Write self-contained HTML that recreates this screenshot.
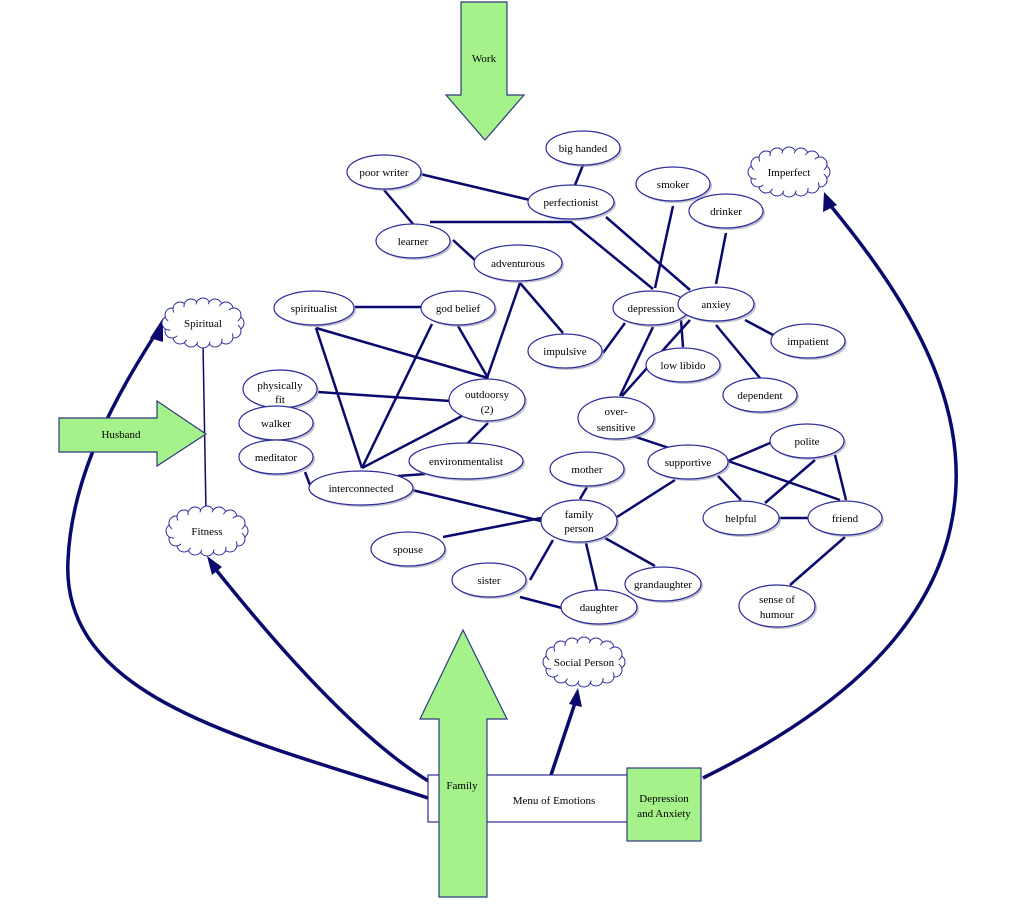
<!DOCTYPE html>
<html><head><meta charset="utf-8"><style>
html,body{margin:0;padding:0;background:#fff;}
svg{display:block;}
text{font-family:"Liberation Serif",serif;font-size:11px;fill:#000;text-anchor:middle;}
</style></head><body>
<svg width="1024" height="906" viewBox="0 0 1024 906" xmlns="http://www.w3.org/2000/svg">
<defs>
<g id="cloud">
<g fill="#fff" stroke="#2b2b9a" stroke-width="1">
<circle cx="34" cy="0" r="7"/><circle cx="31" cy="8" r="7"/><circle cx="23" cy="14" r="7"/><circle cx="12" cy="17" r="7"/><circle cx="0" cy="18" r="7"/><circle cx="-12" cy="17" r="7"/><circle cx="-23" cy="14" r="7"/><circle cx="-31" cy="8" r="7"/><circle cx="-34" cy="0" r="7"/><circle cx="-31" cy="-8" r="7"/><circle cx="-23" cy="-14" r="7"/><circle cx="-12" cy="-17" r="7"/><circle cx="0" cy="-18" r="7"/><circle cx="12" cy="-17" r="7"/><circle cx="23" cy="-14" r="7"/><circle cx="31" cy="-8" r="7"/>
</g>
<ellipse cx="0" cy="0" rx="35" ry="19" fill="#fff"/>
</g>
</defs>

<g fill="none" stroke="#0a0a6e" stroke-width="3.5">
<path d="M428,798 C250,740 60,700 68,560 C72,470 120,390 158,330"/>
<path d="M430,782 C360,740 280,650 213,566"/>
<path d="M551,775 L576,700"/>
<path d="M703,778 C820,720 930,640 952,520 C975,400 900,290 830,205"/>
</g>
<g fill="#0a0a6e">
<polygon points="163,318 150,338 163,342"/>
<polygon points="207,556 212,575 222,567"/>
<polygon points="578,688 569,704 582,707"/>
<polygon points="824,192 823,212 837,205"/>
</g>

<g stroke="#0a0a6e" stroke-width="2.5" fill="none">
<line x1="420" y1="174" x2="530" y2="200"/>
<line x1="384" y1="190" x2="413" y2="224"/>
<line x1="583" y1="165" x2="575" y2="185"/>
<polyline points="430,222 571,222 653,289"/>
<line x1="606" y1="217" x2="690" y2="290"/>
<line x1="673" y1="206" x2="655" y2="288"/>
<line x1="726" y1="233" x2="716" y2="284"/>
<line x1="453" y1="240" x2="477" y2="262"/>
<line x1="520" y1="283" x2="487" y2="378"/>
<line x1="520" y1="283" x2="563" y2="333"/>
<line x1="625" y1="323" x2="603" y2="353"/>
<line x1="653" y1="327" x2="620" y2="396"/>
<line x1="690" y1="320" x2="622" y2="396"/>
<line x1="681" y1="320" x2="683" y2="347"/>
<line x1="745" y1="320" x2="775" y2="336"/>
<line x1="716" y1="325" x2="760" y2="378"/>
<line x1="355" y1="307" x2="421" y2="307"/>
<line x1="316" y1="328" x2="488" y2="378"/>
<line x1="316" y1="328" x2="362" y2="468"/>
<line x1="432" y1="324" x2="362" y2="468"/>
<line x1="458" y1="326" x2="488" y2="378"/>
<line x1="318" y1="392" x2="450" y2="401"/>
<line x1="462" y1="416" x2="362" y2="468"/>
<line x1="488" y1="423" x2="468" y2="443"/>
<line x1="305" y1="472" x2="310" y2="485"/>
<line x1="398" y1="476" x2="425" y2="474"/>
<line x1="412" y1="490" x2="541" y2="521"/>
<line x1="443" y1="537" x2="541" y2="518"/>
<line x1="587" y1="487" x2="580" y2="499"/>
<line x1="617" y1="517" x2="675" y2="480"/>
<line x1="553" y1="540" x2="530" y2="580"/>
<line x1="586" y1="543" x2="597" y2="590"/>
<line x1="605" y1="538" x2="655" y2="566"/>
<line x1="520" y1="597" x2="562" y2="608"/>
<line x1="630" y1="435" x2="672" y2="449"/>
<line x1="728" y1="461" x2="770" y2="443"/>
<line x1="728" y1="461" x2="840" y2="500"/>
<line x1="718" y1="476" x2="741" y2="500"/>
<line x1="815" y1="460" x2="765" y2="503"/>
<line x1="835" y1="455" x2="846" y2="500"/>
<line x1="779" y1="518" x2="808" y2="518"/>
<line x1="845" y1="537" x2="790" y2="585"/>
</g>
<line x1="203" y1="343" x2="206" y2="512" stroke="#0a0a6e" stroke-width="1.5"/>

<g stroke="#2b2b9a" stroke-width="1.2" fill="#fff">
<g transform="translate(2,2)" fill="#9a9ab0" stroke="none" opacity="0.6">
<ellipse cx="583" cy="148" rx="37" ry="17"/><ellipse cx="384" cy="172" rx="37" ry="17"/><ellipse cx="571" cy="202" rx="43" ry="17"/><ellipse cx="673" cy="184" rx="37" ry="17"/><ellipse cx="726" cy="211" rx="37" ry="17"/><ellipse cx="413" cy="241" rx="37" ry="17"/><ellipse cx="518" cy="263" rx="44" ry="18"/><ellipse cx="314" cy="308" rx="40" ry="17"/><ellipse cx="458" cy="308" rx="37" ry="17"/><ellipse cx="651" cy="308" rx="38" ry="17"/><ellipse cx="716" cy="304" rx="38" ry="17"/><ellipse cx="808" cy="341" rx="37" ry="17"/><ellipse cx="565" cy="351" rx="37" ry="17"/><ellipse cx="683" cy="365" rx="37" ry="17"/><ellipse cx="280" cy="389" rx="37" ry="19"/><ellipse cx="487" cy="400" rx="38" ry="21"/><ellipse cx="760" cy="395" rx="37" ry="17"/><ellipse cx="276" cy="423" rx="37" ry="17"/><ellipse cx="616" cy="418" rx="38" ry="21"/><ellipse cx="276" cy="457" rx="37" ry="17"/><ellipse cx="807" cy="441" rx="37" ry="17"/><ellipse cx="688" cy="462" rx="40" ry="17"/><ellipse cx="587" cy="469" rx="37" ry="17"/><ellipse cx="466" cy="461" rx="57" ry="18"/><ellipse cx="361" cy="488" rx="52" ry="17"/><ellipse cx="579" cy="521" rx="38" ry="21"/><ellipse cx="741" cy="518" rx="38" ry="17"/><ellipse cx="845" cy="518" rx="37" ry="17"/><ellipse cx="408" cy="549" rx="37" ry="17"/><ellipse cx="489" cy="580" rx="37" ry="17"/><ellipse cx="663" cy="584" rx="38" ry="17"/><ellipse cx="599" cy="607" rx="38" ry="17"/><ellipse cx="777" cy="606" rx="38" ry="21"/>
</g>
<ellipse cx="583" cy="148" rx="37" ry="17"/><ellipse cx="384" cy="172" rx="37" ry="17"/><ellipse cx="571" cy="202" rx="43" ry="17"/><ellipse cx="673" cy="184" rx="37" ry="17"/><ellipse cx="726" cy="211" rx="37" ry="17"/><ellipse cx="413" cy="241" rx="37" ry="17"/><ellipse cx="518" cy="263" rx="44" ry="18"/><ellipse cx="314" cy="308" rx="40" ry="17"/><ellipse cx="458" cy="308" rx="37" ry="17"/><ellipse cx="651" cy="308" rx="38" ry="17"/><ellipse cx="716" cy="304" rx="38" ry="17"/><ellipse cx="808" cy="341" rx="37" ry="17"/><ellipse cx="565" cy="351" rx="37" ry="17"/><ellipse cx="683" cy="365" rx="37" ry="17"/><ellipse cx="280" cy="389" rx="37" ry="19"/><ellipse cx="487" cy="400" rx="38" ry="21"/><ellipse cx="760" cy="395" rx="37" ry="17"/><ellipse cx="276" cy="423" rx="37" ry="17"/><ellipse cx="616" cy="418" rx="38" ry="21"/><ellipse cx="276" cy="457" rx="37" ry="17"/><ellipse cx="807" cy="441" rx="37" ry="17"/><ellipse cx="688" cy="462" rx="40" ry="17"/><ellipse cx="587" cy="469" rx="37" ry="17"/><ellipse cx="466" cy="461" rx="57" ry="18"/><ellipse cx="361" cy="488" rx="52" ry="17"/><ellipse cx="579" cy="521" rx="38" ry="21"/><ellipse cx="741" cy="518" rx="38" ry="17"/><ellipse cx="845" cy="518" rx="37" ry="17"/><ellipse cx="408" cy="549" rx="37" ry="17"/><ellipse cx="489" cy="580" rx="37" ry="17"/><ellipse cx="663" cy="584" rx="38" ry="17"/><ellipse cx="599" cy="607" rx="38" ry="17"/><ellipse cx="777" cy="606" rx="38" ry="21"/>
</g>
<g>
<text x="583" y="152">big handed</text><text x="384" y="176">poor writer</text><text x="571" y="206">perfectionist</text><text x="673" y="188">smoker</text><text x="726" y="215">drinker</text><text x="413" y="245">learner</text><text x="518" y="267">adventurous</text><text x="314" y="312">spiritualist</text><text x="458" y="312">god belief</text><text x="651" y="312">depression</text><text x="716" y="308">anxiey</text><text x="808" y="345">impatient</text><text x="565" y="355">impulsive</text><text x="683" y="369">low libido</text>
<text x="280" y="389">physically</text><text x="280" y="403">fit</text>
<text x="487" y="398">outdoorsy</text><text x="487" y="413">(2)</text>
<text x="760" y="399">dependent</text><text x="276" y="427">walker</text>
<text x="616" y="415">over-</text><text x="616" y="431">sensitive</text>
<text x="276" y="461">meditator</text><text x="807" y="445">polite</text><text x="688" y="466">supportive</text><text x="587" y="473">mother</text><text x="466" y="465">environmentalist</text><text x="361" y="492">interconnected</text>
<text x="579" y="518">family</text><text x="579" y="532">person</text>
<text x="741" y="522">helpful</text><text x="845" y="522">friend</text><text x="408" y="553">spouse</text><text x="489" y="584">sister</text><text x="663" y="588">grandaughter</text><text x="599" y="611">daughter</text>
<text x="777" y="603">sense of</text><text x="777" y="618">humour</text>
</g>

<use href="#cloud" transform="translate(789,172)"/>
<use href="#cloud" transform="translate(203,323)"/>
<use href="#cloud" transform="translate(207,531)"/>
<use href="#cloud" transform="translate(584,662)"/>
<text x="789" y="176">Imperfect</text>
<text x="203" y="327">Spiritual</text>
<text x="207" y="535">Fitness</text>
<text x="584" y="666">Social Person</text>

<polygon points="461,2 507,2 507,95 524,95 485,140 446,95 461,95" fill="#a6f28a" stroke="#2b3a80" stroke-width="1.2"/>
<text x="484" y="62">Work</text>

<polygon points="59,418 157,418 157,401 206,434 157,466 157,452 59,452" fill="#a6f28a" stroke="#2b3a80" stroke-width="1.2"/>
<text x="121" y="438">Husband</text>

<rect x="428" y="775" width="200" height="47" fill="#fff" stroke="#2b2b9a" stroke-width="1.2"/>
<text x="554" y="804">Menu of Emotions</text>

<polygon points="439,719 420,719 463,630 507,719 487,719 487,897 439,897" fill="#a6f28a" stroke="#2b3a80" stroke-width="1.2"/>
<text x="462" y="789">Family</text>

<rect x="627" y="768" width="74" height="73" fill="#a6f28a" stroke="#2b3a80" stroke-width="1.2"/>
<text x="664" y="802">Depression</text>
<text x="664" y="817">and Anxiety</text>
</svg>
</body></html>
